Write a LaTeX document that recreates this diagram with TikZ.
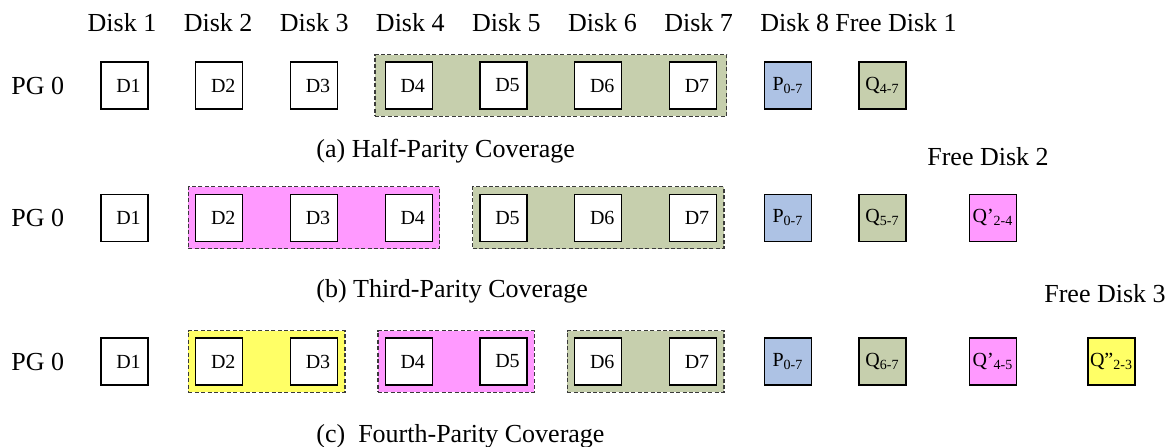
\documentclass[tikz,border=0pt]{standalone}
\usepackage{fontspec}
\setmainfont{Liberation Serif}
\usepackage{tikz}
\usetikzlibrary{fit,backgrounds}
\definecolor{grpgreen}{HTML}{C6CFAD}
\definecolor{grppink}{HTML}{FF99FF}
\definecolor{grpyellow}{HTML}{FFFF66}
\definecolor{parblue}{HTML}{ADC2E4}
\definecolor{dashgrey}{HTML}{3A3A3A}

\begin{document}
\begin{tikzpicture}[x=0.5pt,y=-0.5pt,font=\fontsize{13}{15}\selectfont,
  disk/.style={draw=black,line width=0.6pt,fill=white,minimum size=23.5pt,
               inner sep=0pt,font=\fontsize{10}{12}\selectfont},
  grp/.style={draw=dashgrey,dash pattern=on 2pt off 1.2pt,line width=0.65pt,
              fill=#1,inner xsep=3.4pt,inner ysep=3.4pt},
  lbl/.style={anchor=base,inner sep=0pt},
  captxt/.style={anchor=base west,inner sep=0pt},
  pg/.style={anchor=west,inner sep=0pt},
]
\useasboundingbox (0,0) rectangle (1170,446);

% column heads
\foreach \i in {1,...,8}
  \node[lbl] (head\i) at ({122+(\i-1)*96.1},31) {Disk \i};
\node[lbl] (free1) at (896,31) {Free Disk 1};

% (a) half-parity
\node[pg] (pga) at (11,85.5) {PG 0};
\foreach \i in {1,...,7}
  \node[disk] (a\i) at ({124.5+(\i-1)*94.75},85.5) {\hspace*{4pt}D\i};
\node[disk,fill=parblue] (ap) at (788,85.5) {P\textsubscript{0-7}};
\node[disk,fill=grpgreen] (aq) at (882.5,85.5) {Q\textsubscript{4-7}};
\node[captxt] (capa) at (316,157) {(a) Half-Parity Coverage};

% (b) third-parity
\node[lbl] (free2) at (988,165) {Free Disk 2};
\node[pg] (pgb) at (11,217.7) {PG 0};
\foreach \i in {1,...,7}
  \node[disk] (b\i) at ({124.5+(\i-1)*94.75},217.7) {\hspace*{4pt}D\i};
\node[disk,fill=parblue] (bp) at (788,217.7) {P\textsubscript{0-7}};
\node[disk,fill=grpgreen] (bq) at (882.5,217.7) {Q\textsubscript{5-7}};
\node[disk,fill=grppink] (bq1) at (993,217.7) {Q'\textsubscript{2-4}};
\node[captxt] (capb) at (316,297) {(b) Third-Parity Coverage};

% (c) fourth-parity
\node[lbl] (free3) at (1105,302) {Free Disk 3};
\node[pg] (pgc) at (11,361.5) {PG 0};
\foreach \i in {1,...,7}
  \node[disk] (c\i) at ({124.5+(\i-1)*94.75},361.5) {\hspace*{4pt}D\i};
\node[disk,fill=parblue] (cp) at (788,361.5) {P\textsubscript{0-7}};
\node[disk,fill=grpgreen] (cq) at (882.5,361.5) {Q\textsubscript{6-7}};
\node[disk,fill=grppink] (cq1) at (993,361.5) {Q'\textsubscript{4-5}};
\node[disk,fill=grpyellow] (cq2) at (1111.5,361.5) {Q''\textsubscript{2-3}};
\node[captxt] (capc) at (316,442) {(c)\ \ Fourth-Parity Coverage};

% parity groups
\begin{scope}[on background layer]
\node[grp=grpgreen,inner xsep=4.8pt,fit=(a4)(a7)] (ga) {};
\node[grp=grppink,fit=(b2)(b4)] (gb1) {};
\node[grp=grpgreen,fit=(b5)(b7)] (gb2) {};
\node[grp=grpyellow,fit=(c2)(c3)] (gc1) {};
\node[grp=grppink,fit=(c4)(c5)] (gc2) {};
\node[grp=grpgreen,fit=(c6)(c7)] (gc3) {};
\end{scope}
\end{tikzpicture}
\end{document}
